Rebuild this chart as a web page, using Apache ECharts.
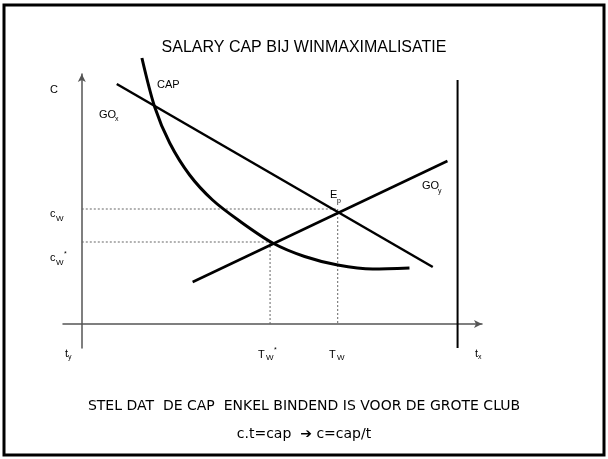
<!DOCTYPE html>
<html>
<head>
<meta charset="utf-8">
<script src="https://cdn.jsdelivr.net/npm/echarts@6/dist/echarts.min.js"></script>
<style>
    html, body { margin: 0; padding: 0; background: #fff; }
    #chart { width: 608px; height: 459px; }
</style>
</head>
<body>
<div id="chart"></div>
<script>
// t = talent, c = cost per unit of talent (units)
const tRange = [-5, 106.5]
const cRange = [-9.6, 100]

const capT = [16, 19.4, 23.4, 28.7, 34.8, 42, 50.8, 59.3, 68.1, 77.4, 87.2]
const capC = [106.4, 86.8, 72.4, 59.6, 49.6, 41.2, 32.4, 27, 23.6, 22, 22.4]

const goxT = [9.3, 93.4]
const goxC = [96, 22.8]

const goyT = [29.5, 97.3]
const goyC = [16.8, 65.2]

const tW = 68.1
const cW = 46
const tWstar = 50.1
const cWstar = 32.8

const tX = 100
const tXtop = 97.6

const zip = (a, b) => a.map((v, i) => [v, b[i]])

const solid = (name, data, width, smooth) => ({
    name: name,
    type: 'line',
    data: data,
    smooth: smooth || false,
    symbol: 'none',
    clip: false,
    silent: true,
    lineStyle: { color: '#000', width: width }
})

const dotted = (data) => ({
    type: 'line',
    data: data,
    symbol: 'none',
    silent: true,
    lineStyle: { color: '#666', width: 1, type: [2, 2] }
})

const txt = (x, y, text, size) => ({
    type: 'text',
    x: x,
    y: y,
    style: {
        text: text,
        fontSize: size || 11,
        fontFamily: 'Liberation Sans',
        fill: '#000',
        verticalAlign: 'middle'
    }
})

const axisLine = (symbol) => ({
    show: true,
    onZero: true,
    symbol: symbol,
    symbolSize: [6, 8],
    lineStyle: { color: '#555', width: 1.5 }
})

const chart = echarts.init(document.getElementById('chart'))

chart.setOption({
    animation: false,
    title: [
        {
            text: 'SALARY CAP BIJ WINMAXIMALISATIE',
            left: 'center',
            top: 35,
            textStyle: { fontSize: 16, fontWeight: 'normal', color: '#000', fontFamily: 'Liberation Sans' }
        },
        {
            text: 'STEL DAT  DE CAP  ENKEL BINDEND IS VOOR DE GROTE CLUB',
            left: 'center',
            top: 394,
            textStyle: { fontSize: 14, fontWeight: 'normal', color: '#000', fontFamily: 'DejaVu Sans' }
        },
        {
            text: 'c.t=cap  \u2794 c=cap/t',
            left: 'center',
            top: 422,
            textStyle: { fontSize: 14, fontWeight: 'normal', color: '#000', fontFamily: 'DejaVu Sans' }
        }
    ],
    grid: { left: 63, right: 126, top: 74, bottom: 111 },
    xAxis: {
        type: 'value',
        min: tRange[0],
        max: tRange[1],
        axisLine: axisLine(['none', 'arrow']),
        axisTick: { show: false },
        axisLabel: { show: false },
        splitLine: { show: false }
    },
    yAxis: {
        type: 'value',
        min: cRange[0],
        max: cRange[1],
        axisLine: axisLine(['none', 'arrow']),
        axisTick: { show: false },
        axisLabel: { show: false },
        splitLine: { show: false }
    },
    series: [
        dotted([[0, cW], [tW, cW]]),
        dotted([[tW, cW], [tW, 0]]),
        dotted([[0, cWstar], [tWstar, cWstar]]),
        dotted([[tWstar, cWstar], [tWstar, 0]]),
        solid('CAP', zip(capT, capC), 3, 0.3),
        solid('GOx', zip(goxT, goxC), 2.5),
        solid('GOy', zip(goyT, goyC), 2.5),
        solid('tx', [[tX, cRange[0]], [tX, tXtop]], 2)
    ],
    graphic: [
        {
            type: 'rect',
            shape: { x: 4, y: 5, width: 600, height: 450 },
            style: { fill: 'none', stroke: '#000', lineWidth: 3 }
        },
        txt(50, 90, 'C'),
        txt(157, 85, 'CAP'),
        txt(99, 115, 'GO'), txt(115, 119, 'x', 7),
        txt(50, 214, 'c'), txt(56, 219, 'W', 8),
        txt(50, 258, 'c'), txt(56, 263, 'W', 8), txt(64, 254, '*', 7),
        txt(330, 195, 'E'), txt(337, 201, 'p', 7),
        txt(422, 186, 'GO'), txt(438, 191, 'y', 7),
        txt(65, 354, 't'), txt(68, 357, 'y', 7),
        txt(258, 355, 'T'), txt(266, 358, 'W', 8), txt(274, 350, '*', 7),
        txt(329, 355, 'T'), txt(337, 358, 'W', 8),
        txt(475, 354, 't'), txt(478, 357, 'x', 7)
    ]
})
</script>
</body>
</html>
